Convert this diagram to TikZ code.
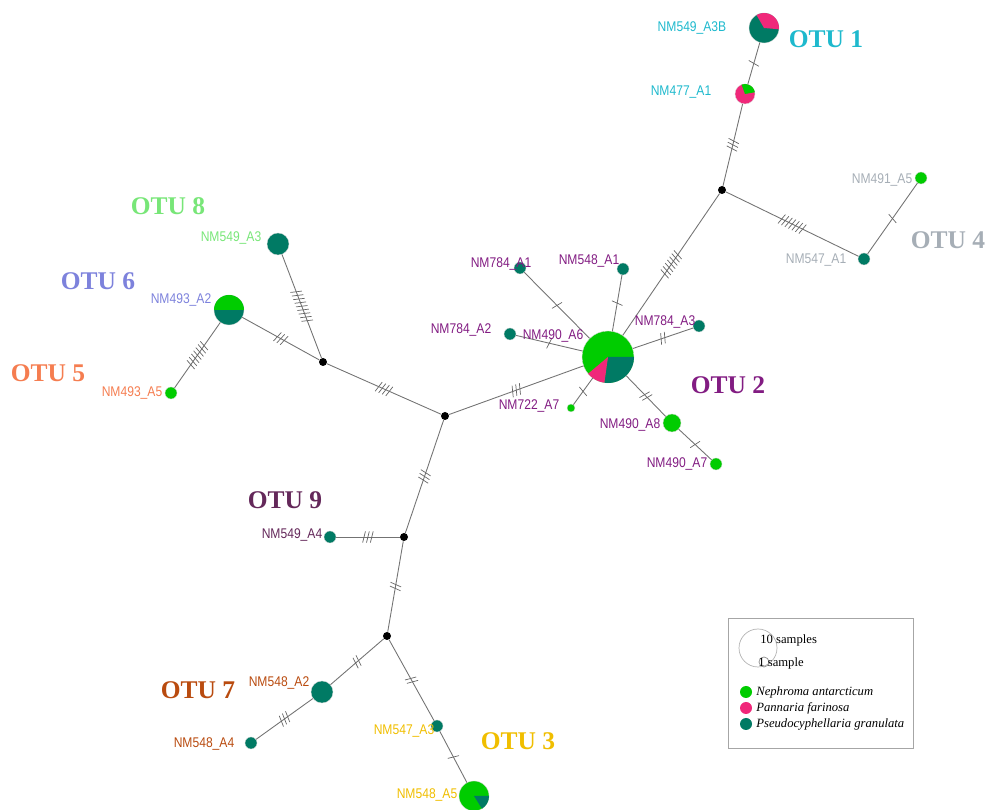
\documentclass[tikz,border=0pt]{standalone}
\usepackage{fontspec}
\setmainfont{Liberation Serif}
\newfontfamily\labfont[FakeStretch=0.86]{Liberation Sans}
\usetikzlibrary{decorations.markings}

\definecolor{nephroma}{RGB}{0,204,0}
\definecolor{pannaria}{RGB}{240,40,122}
\definecolor{pseudo}{RGB}{0,122,100}
\definecolor{otuone}{RGB}{30,185,205}
\definecolor{otutwo}{RGB}{130,28,130}
\definecolor{otuthree}{RGB}{240,190,0}
\definecolor{otufour}{RGB}{166,174,182}
\definecolor{otufive}{RGB}{245,125,80}
\definecolor{otusix}{RGB}{125,130,220}
\definecolor{otuseven}{RGB}{185,75,15}
\definecolor{otueight}{RGB}{120,230,120}
\definecolor{otunine}{RGB}{100,40,90}

\newcommand{\pieslice}[5]{\fill[#5] (#1.center) -- ++(#2:#4) arc[start angle=#2, end angle=#3, radius=#4] -- cycle;}

\begin{document}
\begin{tikzpicture}[x=0.02cm,y=0.02cm,
    hap/.style={circle, inner sep=0pt, minimum size=#1*0.04cm, draw=black!15, line width=0.2pt},
    mv/.style={circle, fill=black, inner sep=0pt, minimum size=0.16cm},
    link/.style={draw=black!55, line width=0.5pt},
    muts/.style={postaction={decorate, decoration={markings, mark=at position 0.5 with {\foreach \k in {1,...,#1} {\draw[black!60, line width=0.4pt, xshift={(\k-(#1+1)/2)*2.2pt}] (-0.8pt,-3.2pt) -- (0.8pt,3.2pt);}}}}},
    lab/.style={font=\labfont\fontsize{8}{9}\selectfont},
    otu/.style={font=\bfseries\fontsize{14.5}{16}\selectfont},
    key/.style={font=\itshape\fontsize{7.2}{9}\selectfont, anchor=west, inner sep=0pt}]

    \useasboundingbox (0,0) rectangle (990,810);

    % haplotypes
    \node[hap=15, fill=pseudo] (n549a3b) at (764,782) {};
    \node[hap=10, fill=pannaria] (n477a1) at (745,716) {};
    \node[mv] (j1) at (722,620) {};
    \node[hap=6, fill=nephroma] (n491a5) at (921,632) {};
    \node[hap=6, fill=pseudo] (n547a1) at (864,551) {};
    \node[hap=26, fill=nephroma] (n490a6) at (608,453) {};
    \node[hap=6, fill=pseudo] (n784a1) at (520,542) {};
    \node[hap=6, fill=pseudo] (n548a1) at (623,541) {};
    \node[hap=6, fill=pseudo] (n784a2) at (510,476) {};
    \node[hap=6, fill=pseudo] (n784a3) at (699,484) {};
    \node[hap=4, fill=nephroma] (n722a7) at (571,402) {};
    \node[hap=9, fill=nephroma] (n490a8) at (672,387) {};
    \node[hap=6, fill=nephroma] (n490a7) at (716,346) {};
    \node[mv] (j2) at (445,394) {};
    \node[mv] (j3) at (323,448) {};
    \node[hap=11, fill=pseudo] (n549a3) at (278,566) {};
    \node[hap=15, fill=pseudo] (n493a2) at (229,500) {};
    \node[hap=6, fill=nephroma] (n493a5) at (171,417) {};
    \node[mv] (j4) at (404,273) {};
    \node[hap=6, fill=pseudo] (n549a4) at (330,273) {};
    \node[mv] (j5) at (387,174) {};
    \node[hap=11, fill=pseudo] (n548a2) at (322,118) {};
    \node[hap=6, fill=pseudo] (n548a4) at (251,67) {};
    \node[hap=6, fill=pseudo] (n547a3) at (437,84) {};
    \node[hap=15, fill=nephroma] (n548a5) at (474,14) {};

    % pie slices
    \pieslice{n549a3b}{-5}{120}{0.3cm}{pannaria}
    \pieslice{n477a1}{10}{110}{0.2cm}{nephroma}
    \pieslice{n490a6}{-98}{0}{0.52cm}{pseudo}
    \pieslice{n490a6}{-140}{-98}{0.52cm}{pannaria}
    \pieslice{n493a2}{0}{180}{0.3cm}{nephroma}
    \pieslice{n548a5}{-58}{0}{0.3cm}{pseudo}

    % links with mutation steps
    \draw[link, muts=1] (n549a3b) -- (n477a1);
    \draw[link, muts=3] (n477a1) -- (j1);
    \draw[link, muts=7] (j1) -- (n547a1);
    \draw[link, muts=1] (n547a1) -- (n491a5);
    \draw[link, muts=7] (j1) -- (n490a6);
    \draw[link, muts=1] (n490a6) -- (n784a1);
    \draw[link, muts=1] (n490a6) -- (n548a1);
    \draw[link, muts=1] (n490a6) -- (n784a2);
    \draw[link, muts=2] (n490a6) -- (n784a3);
    \draw[link, muts=1] (n490a6) -- (n722a7);
    \draw[link, muts=2] (n490a6) -- (n490a8);
    \draw[link, muts=1] (n490a8) -- (n490a7);
    \draw[link, muts=3] (n490a6) -- (j2);
    \draw[link, muts=4] (j2) -- (j3);
    \draw[link, muts=9] (j3) -- (n549a3);
    \draw[link, muts=3] (j3) -- (n493a2);
    \draw[link, muts=7] (n493a2) -- (n493a5);
    \draw[link, muts=3] (j2) -- (j4);
    \draw[link, muts=3] (j4) -- (n549a4);
    \draw[link, muts=2] (j4) -- (j5);
    \draw[link, muts=2] (j5) -- (n548a2);
    \draw[link, muts=3] (n548a2) -- (n548a4);
    \draw[link, muts=2] (j5) -- (n547a3);
    \draw[link, muts=1] (n547a3) -- (n548a5);

    % sample labels
    \node[lab, otuone] (t549a3b) at (692,782) {NM549\_A3B};
    \node[lab, otuone] (t477a1) at (681,718) {NM477\_A1};
    \node[lab, otufour] (t491a5) at (882,630) {NM491\_A5};
    \node[lab, otufour] (t547a1) at (816,550) {NM547\_A1};
    \node[lab, otutwo] (t784a1) at (501,546) {NM784\_A1};
    \node[lab, otutwo] (t548a1) at (589,549) {NM548\_A1};
    \node[lab, otutwo] (t784a2) at (461,480) {NM784\_A2};
    \node[lab, otutwo] (t490a6) at (553,474) {NM490\_A6};
    \node[lab, otutwo] (t784a3) at (665,488) {NM784\_A3};
    \node[lab, otutwo] (t722a7) at (529,404) {NM722\_A7};
    \node[lab, otutwo] (t490a8) at (630,385) {NM490\_A8};
    \node[lab, otutwo] (t490a7) at (677,346) {NM490\_A7};
    \node[lab, otueight] (t549a3) at (231,572) {NM549\_A3};
    \node[lab, otusix] (t493a2) at (181,510) {NM493\_A2};
    \node[lab, otufive] (t493a5) at (132,417) {NM493\_A5};
    \node[lab, otunine] (t549a4) at (292,275) {NM549\_A4};
    \node[lab, otuseven] (t548a2) at (279,127) {NM548\_A2};
    \node[lab, otuseven] (t548a4) at (204,66) {NM548\_A4};
    \node[lab, otuthree] (t547a3) at (404,79) {NM547\_A3};
    \node[lab, otuthree] (t548a5) at (427,15) {NM548\_A5};

    % OTU names
    \node[otu, otuone] (otu1) at (826,771) {OTU 1};
    \node[otu, otutwo] (otu2) at (728,425) {OTU 2};
    \node[otu, otuthree] (otu3) at (518,69) {OTU 3};
    \node[otu, otufour] (otu4) at (948,570) {OTU 4};
    \node[otu, otufive] (otu5) at (48,437) {OTU 5};
    \node[otu, otusix] (otu6) at (98,529) {OTU 6};
    \node[otu, otuseven] (otu7) at (198,120) {OTU 7};
    \node[otu, otueight] (otu8) at (168,604) {OTU 8};
    \node[otu, otunine] (otu9) at (285,310) {OTU 9};

    % legend
    \draw[black!35, line width=0.4pt] (728,62) rectangle (913,192);
    \draw[black!30, line width=0.4pt] (758,162) circle[radius=0.38cm];
    \draw[black!45, line width=0.4pt] (764,148) circle[radius=0.1cm];
    \node[key, font=\fontsize{7.2}{9}\selectfont] (k10) at (760,170) {10 samples};
    \node[key, font=\fontsize{7.2}{9}\selectfont] (k1) at (758,147) {1 sample};
    \node[hap=6, fill=nephroma, draw=none] (c1) at (746,118) {};
    \node[hap=6, fill=pannaria, draw=none] (c2) at (746,102) {};
    \node[hap=6, fill=pseudo, draw=none] (c3) at (746,86) {};
    \node[key] (s1) at (756,118) {Nephroma antarcticum};
    \node[key] (s2) at (756,102) {Pannaria farinosa};
    \node[key] (s3) at (756,86) {Pseudocyphellaria granulata};
\end{tikzpicture}
\end{document}
